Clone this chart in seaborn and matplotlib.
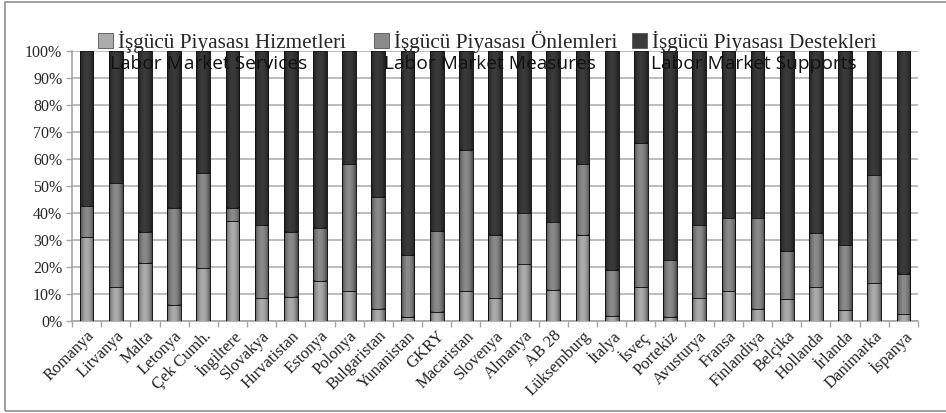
import numpy as np
import matplotlib
matplotlib.use("Agg")
import matplotlib.pyplot as plt
import seaborn as sns
from matplotlib.patches import Patch, Rectangle
from matplotlib.ticker import PercentFormatter, FixedLocator

countries = ["Romanya", "Litvanya", "Malta", "Letonya", "Çek Cumh.", "İngiltere",
             "Slovakya", "Hırvatistan", "Estonya", "Polonya", "Bulgaristan",
             "Yunanistan", "GKRY", "Macaristan", "Slovenya", "Almanya", "AB 28",
             "Lüksemburg", "İtalya", "İsveç", "Portekiz", "Avusturya", "Fransa",
             "Finlandiya", "Belçika", "Hollanda", "İrlanda", "Danimarka", "İspanya"]

# shares of labour market policy spending (%)
services = [31, 12.5, 21.5, 6, 19.5, 37, 8.5, 9, 15, 11, 4.5, 1.5, 3.5, 11, 8.5,
            21, 11.5, 32, 2, 12.5, 1.5, 8.5, 11, 4.5, 8, 12.5, 4, 14, 2.5]
measures = [11.5, 38.5, 11.5, 36, 35.5, 5, 27, 24, 19.5, 47, 41.5, 23, 30, 52.5,
            23.5, 19, 25, 26, 17, 53.5, 21, 27, 27, 33.5, 18, 20, 24, 40, 15]
supports = [57.5, 49, 67, 58, 45, 58, 64.5, 67, 65.5, 42, 54, 75.5, 66.5, 36.5,
            68, 60, 63.5, 42, 81, 34, 77.5, 64.5, 62, 62, 74, 67.5, 72, 46, 82.5]

series_tr = ["İşgücü Piyasası Hizmetleri", "İşgücü Piyasası Önlemleri",
             "İşgücü Piyasası Destekleri"]
series_en = ["Labor Market Services", "Labor Market Measures",
             "Labor Market Supports"]
yticks = [0, 10, 20, 30, 40, 50, 60, 70, 80, 90, 100]

colors = ["#ababab", "#8a8a8a", "#3a3a3a"]
serif = ["Liberation Serif", "DejaVu Serif"]

sns.set_theme(style="white")
plt.rcParams["font.family"] = serif

fig = plt.figure(figsize=(9.46, 4.13), dpi=100)
ax = fig.add_axes([72 / 946, 92 / 413, 846 / 946, 270 / 413])

services_a = np.array(services, dtype=float)
measures_a = np.array(measures, dtype=float)
supports_a = np.array(supports, dtype=float)
layers = [services_a + measures_a + supports_a,   # top of supports
          services_a + measures_a,                # top of measures
          services_a]                             # top of services
layer_colors = [colors[2], colors[1], colors[0]]

bar_w = 0.47
seen = 0
for z, (heights, col) in enumerate(zip(layers, layer_colors)):
    sns.barplot(x=countries, y=heights, color=col, width=bar_w, saturation=1,
                edgecolor="#1c1c1c", linewidth=0.7, ax=ax)
    new = ax.patches[seen:]
    seen = len(ax.patches)
    for p in new:
        p.set_zorder(3 + z)
        # darker sides for a rounded, cylinder-like bar
        x0, y0 = p.get_x(), p.get_y()
        w, h = p.get_width(), p.get_height()
        t = np.linspace(0, 1, 32)
        shade = np.zeros((1, 32, 4))
        shade[..., 3] = 0.45 * np.abs(2 * t - 1) ** 2
        ax.imshow(shade, extent=[x0, x0 + w, y0, y0 + h], aspect="auto",
                  zorder=3 + z + 0.5, interpolation="bilinear")

ax.set_xlim(-0.5, len(countries) - 0.5)
ax.set_ylim(0, 100)
ax.set_yticks(yticks)
ax.yaxis.set_major_formatter(PercentFormatter(decimals=0))
ax.yaxis.grid(True, color="#bcbcbc", linewidth=1.4)
ax.xaxis.grid(False)
ax.set_axisbelow(True)

for side in ["top", "right"]:
    ax.spines[side].set_visible(False)
for side in ["left", "bottom"]:
    ax.spines[side].set_color("#a6a6a6")
    ax.spines[side].set_linewidth(1.2)

ax.tick_params(axis="y", which="major", length=4, width=1, color="#a6a6a6",
               labelsize=11.5, pad=3, left=True)
ax.set_xticks(range(len(countries)))
ax.set_xticklabels(countries, rotation=45, ha="right", rotation_mode="anchor",
                   fontsize=12)
ax.tick_params(axis="x", which="major", length=0, pad=5)
ax.xaxis.set_minor_locator(FixedLocator(np.arange(-0.5, len(countries), 1.0)))
ax.tick_params(axis="x", which="minor", length=4, width=1, color="#a6a6a6",
               bottom=True)
ax.set_xlabel("")
ax.set_ylabel("")

# legend entries across the top, each with its English caption beneath
leg_x = [98 / 946, 374 / 946, 632 / 946]
en_x = [110 / 946, 384 / 946, 651 / 946]
for i in range(3):
    handle = Patch(facecolor=colors[i], edgecolor="#555555", linewidth=0.6)
    leg = fig.legend([handle], [series_tr[i]], loc="center left",
                     bbox_to_anchor=(leg_x[i], 371 / 413), frameon=False,
                     handlelength=0.7, handleheight=0.7, handletextpad=0.25,
                     borderpad=0, borderaxespad=0,
                     prop={"family": serif, "size": 15.3})
    fig.text(en_x[i], 349 / 413, series_en[i], ha="left", va="center",
             fontsize=13.8, family=["Open Sans", "DejaVu Sans"], color="#111111",
             zorder=10)

# outer chart border
fig.add_artist(Rectangle((4.5 / 946, 2 / 413), 1.0, 409 / 413,
                         transform=fig.transFigure, fill=False,
                         edgecolor="#8f8f8f", linewidth=1.2))

fig.savefig("out.png", dpi=100)
